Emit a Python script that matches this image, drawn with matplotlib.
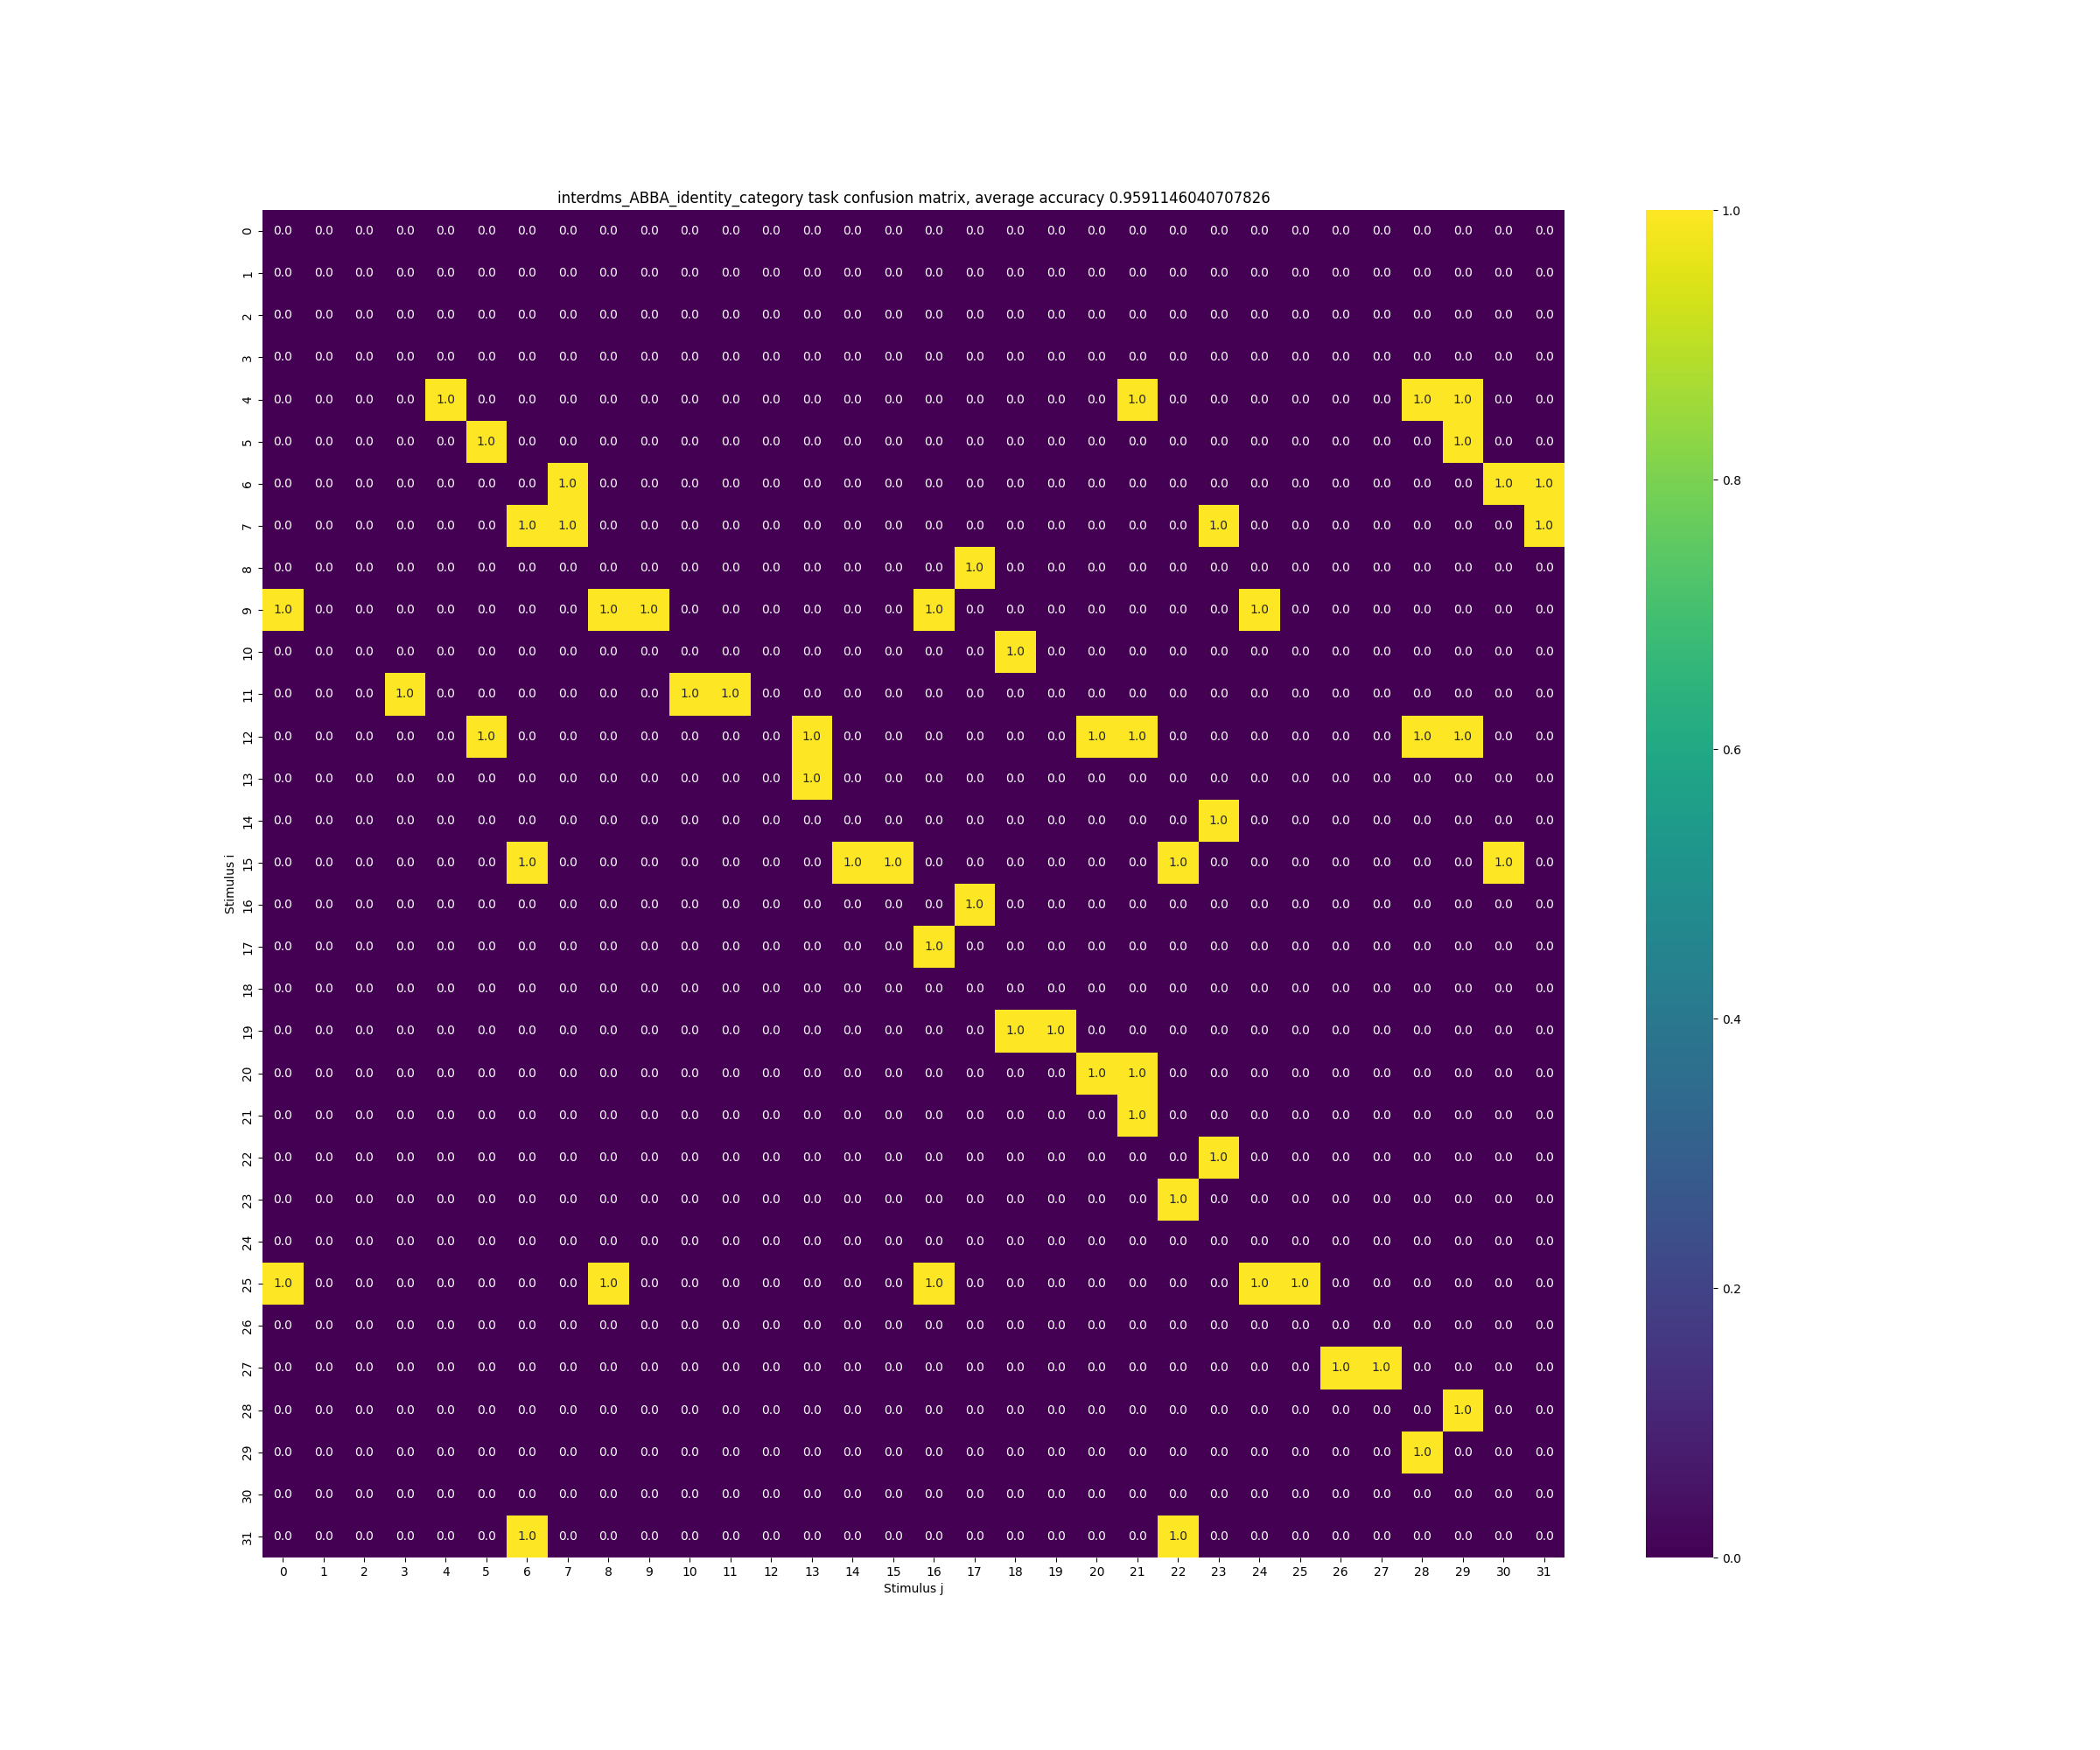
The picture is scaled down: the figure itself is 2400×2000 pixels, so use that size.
import matplotlib
matplotlib.use('Agg')
import matplotlib.pyplot as plt
import numpy as np
import seaborn as sns

task_name = 'interdms_ABBA_identity_category'
accuracy = 0.9591146040707826
n_stimuli = 32

# columns holding 1.0 for each row (stimulus i); all other cells are 0.0
hit_columns = [
    [], [], [], [],
    [4, 21, 28, 29],
    [5, 29],
    [7, 30, 31],
    [6, 7, 23, 31],
    [17],
    [0, 8, 9, 16, 24],
    [18],
    [3, 10, 11],
    [5, 13, 20, 21, 28, 29],
    [13],
    [23],
    [6, 14, 15, 22, 30],
    [17],
    [16],
    [],
    [18, 19],
    [20, 21],
    [21],
    [23],
    [22],
    [],
    [0, 8, 16, 24, 25],
    [],
    [26, 27],
    [29],
    [28],
    [],
    [6, 22],
]

matrix = np.zeros((n_stimuli, n_stimuli))
for row, cols in enumerate(hit_columns):
    matrix[row, cols] = 1.0

fig, ax = plt.subplots(figsize=(24, 20))
sns.heatmap(matrix, annot=True, fmt='.1f', cmap='viridis', ax=ax)
ax.set_title(f'{task_name} task confusion matrix, average accuracy {accuracy}')
ax.set_xlabel('Stimulus j')
ax.set_ylabel('Stimulus i')
fig.savefig('out.png', dpi=100)
plt.close(fig)
